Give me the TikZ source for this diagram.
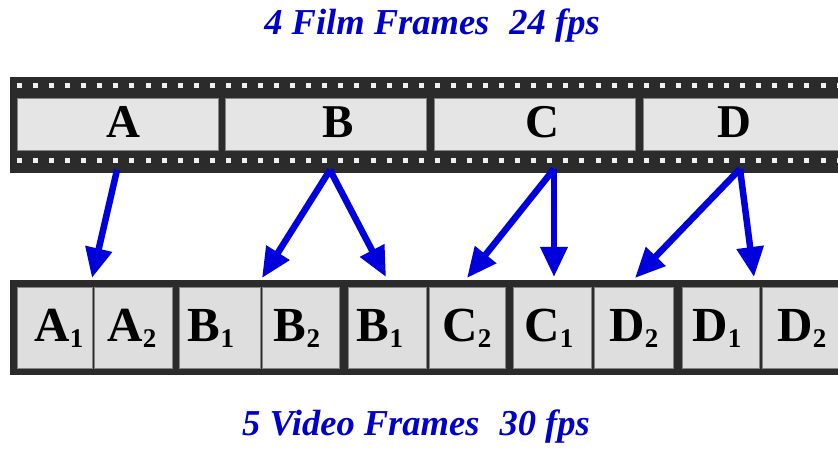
\documentclass[tikz,border=0pt]{standalone}
\usepackage{fontspec}
\setmainfont{Liberation Serif}
\usetikzlibrary{arrows.meta}
\definecolor{stripdark}{HTML}{2B2B2B}
\definecolor{framefill}{HTML}{E5E5E5}
\definecolor{cellfill}{HTML}{DEDEDE}
\definecolor{edgegray}{HTML}{858585}
\definecolor{holefill}{HTML}{F0F0F0}
\definecolor{arrowblue}{HTML}{0000DD}
\definecolor{titleblue}{HTML}{0000CC}
\newcommand\vsub[1]{\raisebox{-6pt}{\fontsize{27}{27}\selectfont #1}}
\begin{document}
\begin{tikzpicture}[x=1pt,y=-1pt,
  stripbg/.style={fill=stripdark, draw=none},
  holebox/.style={fill=holefill, draw=none},
  filmframe/.style={fill=framefill, draw=edgegray, line width=1pt},
  videocell/.style={fill=cellfill, draw=edgegray, line width=1pt},
  filmlabel/.style={font=\fontsize{47}{47}\selectfont\bfseries, anchor=base, inner sep=0pt},
  videolabel/.style={font=\fontsize{49}{49}\selectfont\bfseries, anchor=base, inner sep=0pt},
  titletext/.style={font=\fontsize{36.5}{36.5}\selectfont\bfseries\itshape, text=titleblue, anchor=base, inner sep=0pt},
  pull/.style={draw=arrowblue, line width=6.5pt, -{Triangle[length=30pt,width=26pt]}}
]
\useasboundingbox (0,0) rectangle (838,449);
\begin{scope}
\clip (0,0) rectangle (838,449);
% film strip
\path[stripbg] (10,77) rectangle (845,173);
\foreach \k in {0,...,52} {
  \path[holebox] ({17+16.07*\k},83.3) rectangle ++(5,5);
  \path[holebox] ({17+16.07*\k},158.3) rectangle ++(5,5);
}
\foreach \k in {0,1,2,3} {
  \path[filmframe] ({17+208.7*\k},99) rectangle ++(201,52);
}
% video strip
\path[stripbg] (10,280) rectangle (845,375);
\foreach \a/\b in {17/92,94/172,179/260,262/339,348/426,429/505,513/591,594/673,682/759,762/845} {
  \path[videocell] (\a,287) rectangle (\b,368);
}
\end{scope}
% film labels
\node[filmlabel] (lA) at (123,138) {A};
\node[filmlabel] (lB) at (338,138) {B};
\node[filmlabel] (lC) at (542,138) {C};
\node[filmlabel] (lD) at (734,138) {D};
% video labels
\node[videolabel] (v1) at (59,341) {A\vsub{1}};
\node[videolabel] (v2) at (132,341) {A\vsub{2}};
\node[videolabel] (v3) at (211,341) {B\vsub{1}};
\node[videolabel] (v4) at (297,341) {B\vsub{2}};
\node[videolabel] (v5) at (380,341) {B\vsub{1}};
\node[videolabel] (v6) at (467,341) {C\vsub{2}};
\node[videolabel] (v7) at (549,341) {C\vsub{1}};
\node[videolabel] (v8) at (634,341) {D\vsub{2}};
\node[videolabel] (v9) at (717,341) {D\vsub{1}};
\node[videolabel] (v10) at (802,341) {D\vsub{2}};
% titles
\node[titletext] (ttop) at (432,35) {4 Film Frames\hspace{0.3em} 24 fps};
\node[titletext] (tbot) at (416,435) {5 Video Frames\hspace{0.3em} 30 fps};
% arrow anchors
\coordinate (sA) at (117,170);
\coordinate (sB) at (330,170);
\coordinate (sC) at (554,169);
\coordinate (sD) at (740,169);
\coordinate (tA) at (92,278);
\coordinate (tB1) at (262,278);
\coordinate (tB2) at (386,277);
\coordinate (tC1) at (467,278);
\coordinate (tC2) at (554,277);
\coordinate (tD1) at (635,278);
\coordinate (tD2) at (754,277);
\draw[pull] (sA) -- (tA);
\draw[pull] (sB) -- (tB1);
\draw[pull] (sB) -- (tB2);
\draw[pull] (sC) -- (tC1);
\draw[pull] (sC) -- (tC2);
\draw[pull] (sD) -- (tD1);
\draw[pull] (sD) -- (tD2);
\end{tikzpicture}
\end{document}
